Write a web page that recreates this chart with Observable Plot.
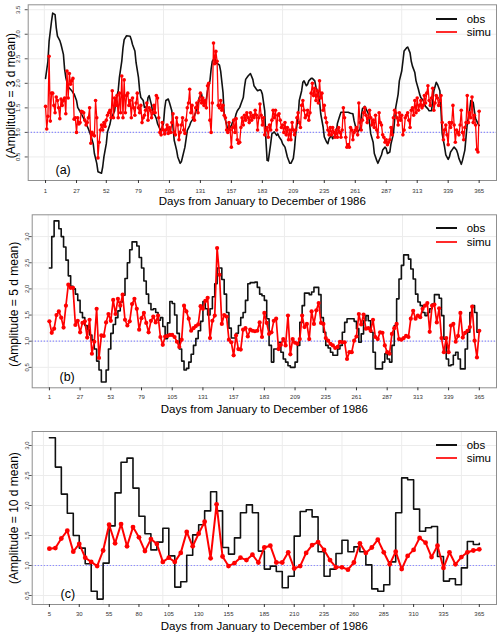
<!DOCTYPE html>
<html><head><meta charset="utf-8">
<script src="https://cdn.jsdelivr.net/npm/d3@7"></script>
<script src="https://cdn.jsdelivr.net/npm/@observablehq/plot@0.6"></script>
<style>
html,body{margin:0;padding:0;background:#fff;}
#root{position:relative;width:500px;height:637px;overflow:hidden;font-family:"Liberation Sans",Arial,Helvetica,sans-serif;}
.panel{position:absolute;left:0;width:500px;}
.lg-row{position:absolute;height:14px;display:flex;align-items:center;white-space:nowrap;font-size:11.5px;color:#000;}
.lg-line{display:inline-block;width:21px;height:0;border-top:2px solid;margin-right:10px;}
</style></head><body><div id="root"></div>
<script>
// ---------- shared labels ----------
const XLABEL = "Days from January to December of 1986";
const yTitles = ["(Amplitude = 3 d mean)", "(Amplitude = 5 d mean)", "(Amplitude = 10 d mean)"];
const panelLabels = ["(a)", "(b)", "(c)"];
const legendNames = ["obs", "simu"];

// ---------- tick labels ----------
const xTicksA = [1,27,52,79,105,131,157,183,209,235,261,287,313,339,365];
const xTicksB = [1,27,53,79,105,131,157,183,209,235,261,287,313,339,365];
const xTicksC = [5,30,55,80,105,130,155,185,210,235,260,285,310,335,365];
const yTicksA = [0.5,1.0,1.5,2.0,2.5,3.0,3.5];
const yTicksBC = [0.5,1.0,1.5,2.0,2.5,3.0];
const gridXA = [0,100,200,300];
const gridXB = [0,100,200,300];
const gridXC = [0,50,100,150,200,250,300,350];

// ---------- panel (a): 3-day mean, daily ----------
const obsA_day = [1,3,4,6,7,9,10,11,13,14,16,17,18,20,23,24,25,27,28,31,34,37,39,41,42,44,45,48,49,50,52,53,55,56,59,60,62,63,65,66,67,69,72,73,74,76,77,79,80,81,83,84,86,87,88,90,91,93,94,95,97,98,100,101,102,104,105,107,108,109,111,112,114,115,116,118,119,120,122,123,125,126,127,129,130,132,133,134,136,137,139,140,141,143,144,146,147,148,150,151,153,154,155,157,158,160,161,162,164,165,167,168,169,171,173,175,176,178,179,181,182,183,185,186,187,188,190,191,193,195,196,197,199,200,202,203,204,206,207,209,210,211,213,214,216,217,218,220,221,222,224,225,227,228,230,231,232,234,235,237,238,239,241,242,243,245,246,248,249,252,255,257,259,260,262,263,265,266,267,269,270,272,273,274,276,277,279,280,281,283,284,286,287,288,290,291,293,294,295,297,298,300,301,302,304,305,307,308,309,311,312,314,315,316,318,319,320,322,323,325,326,327,329,330,332,333,334,336,337,339,340,341,343,344,346,347,348,350,351,353,354,355,357,358,360,361,362,364,365];
const obsA_val = [2.10,2.45,2.86,3.26,3.43,3.40,3.13,2.96,2.87,2.79,
2.59,2.29,2.12,1.93,1.85,1.81,1.78,1.65,1.51,1.38,
1.24,1.07,0.94,0.77,0.57,0.37,0.20,0.17,0.30,0.50,
0.77,1.01,1.16,1.28,1.44,1.65,1.85,2.12,2.45,2.72,
2.89,2.97,2.96,2.89,2.79,2.66,2.42,2.12,1.85,1.71,
1.65,1.51,1.52,1.71,1.75,1.55,1.41,1.34,1.28,1.18,
1.07,1.04,1.18,1.48,1.65,1.68,1.61,1.44,1.11,0.84,
0.64,0.50,0.37,0.40,0.50,0.70,0.87,1.04,1.14,1.21,
1.28,1.34,1.41,1.58,1.71,1.78,1.65,1.61,1.68,1.85,
2.05,2.29,2.45,2.52,2.42,2.39,2.37,2.25,1.81,1.34,
1.16,1.05,1.07,1.14,1.21,1.28,1.38,1.44,1.51,1.58,
1.71,1.92,2.08,2.15,2.20,2.08,1.95,1.88,1.85,1.87,
1.85,1.78,1.44,0.84,0.43,0.42,0.77,0.97,1.01,0.94,
0.97,0.91,0.84,0.77,0.70,0.60,0.50,0.37,0.37,0.47,
0.67,0.97,1.31,1.65,1.85,2.02,2.05,1.95,1.98,2.05,
2.10,2.10,2.05,1.92,1.81,1.65,1.38,1.11,0.91,0.80,
0.77,0.87,0.94,0.87,0.91,0.97,1.18,1.34,1.41,1.41,
1.41,1.39,1.38,1.24,1.04,1.01,1.07,1.31,1.48,1.53,
1.48,1.38,1.18,0.97,0.80,0.57,0.43,0.37,0.43,0.54,
0.64,0.70,0.67,0.57,0.60,0.77,0.97,1.24,1.51,1.78,
2.05,2.25,2.45,2.66,2.72,2.74,2.62,2.45,2.35,2.22,
2.05,1.88,1.78,1.71,1.65,1.58,1.53,1.48,1.44,1.44,
1.65,1.85,2.02,1.98,1.85,1.44,0.97,0.70,0.54,0.45,
0.50,0.60,0.67,0.70,0.64,0.57,0.47,0.35,0.43,0.64,
0.91,1.18,1.44,1.65,1.61,1.44,1.28,1.18,1.14];
const simuA_firstDay = 1, simuA_stepDays = 1;
const simuA_val = [1.53,1.07,1.33,2.55,1.23,1.80,1.80,1.55,1.40,1.72,
1.65,1.50,1.28,1.68,1.55,1.65,1.70,1.38,2.25,1.70,
2.20,1.98,2.05,2.10,1.27,1.30,1.00,1.30,1.17,1.20,
1.43,1.42,1.40,1.25,1.15,1.20,1.30,1.50,0.78,1.00,
0.95,0.93,1.65,1.30,0.48,0.80,1.05,1.15,1.05,1.20,
1.12,1.25,1.35,1.40,1.45,1.30,1.85,1.30,1.70,1.55,
1.75,1.30,1.80,1.40,2.15,1.30,2.07,1.40,1.75,1.80,
1.55,1.65,1.30,1.70,1.50,1.35,1.60,1.80,1.50,1.40,
1.55,1.20,1.30,1.35,1.45,1.60,1.25,1.50,1.45,1.30,
1.40,1.55,1.40,1.75,1.70,1.30,1.00,0.95,1.20,1.05,
0.97,1.05,1.15,0.98,1.10,1.00,1.20,1.38,1.00,0.95,
1.30,1.15,0.85,1.00,1.15,1.30,1.05,0.98,1.25,1.50,
1.60,1.88,1.40,1.55,1.30,1.25,1.50,1.60,1.40,1.65,
1.80,1.60,1.70,1.55,1.65,1.50,1.95,2.00,1.25,1.00,
1.60,2.82,2.40,2.65,2.45,1.55,1.50,1.65,1.45,1.55,
1.35,1.30,1.05,1.00,1.20,1.05,0.70,1.10,1.25,1.00,
1.28,0.85,0.78,0.80,1.10,1.30,1.15,1.35,1.25,1.40,
1.30,1.20,1.40,1.25,1.35,1.30,1.45,1.35,1.05,1.30,
1.58,1.35,1.15,1.30,0.95,1.05,1.10,0.90,1.15,1.05,
1.25,1.45,1.30,1.45,1.05,1.35,1.38,1.25,1.10,1.15,
1.00,1.20,0.95,1.10,0.85,1.05,0.85,1.20,1.05,0.95,
1.05,1.30,1.40,1.20,1.10,1.55,1.65,1.45,1.30,1.35,
1.45,1.25,1.40,1.80,2.00,1.75,1.90,1.65,1.85,1.60,
2.05,1.70,1.80,1.45,1.55,1.30,1.20,1.05,0.95,1.10,
0.95,1.10,1.00,0.90,1.05,0.90,1.10,1.00,0.90,1.05,
1.50,1.30,0.90,0.70,0.75,0.70,1.10,1.05,0.85,1.00,
1.05,1.10,0.95,1.60,1.20,1.05,1.25,1.40,1.50,1.35,
1.20,1.30,1.45,1.30,1.15,1.25,1.10,1.35,1.05,0.90,
1.40,1.20,1.15,0.95,0.90,0.80,0.85,0.75,0.80,0.85,
1.10,0.95,1.30,1.45,1.40,1.30,1.15,1.40,1.25,1.35,
0.95,1.05,1.30,1.35,1.40,1.25,1.10,1.45,1.50,1.35,
1.65,1.40,1.70,1.45,1.55,1.65,1.50,1.55,1.75,1.60,
1.80,1.95,1.65,1.55,1.70,1.90,1.45,1.60,1.75,1.70,
1.55,1.65,1.75,1.20,0.85,1.05,1.15,0.95,0.75,1.20,
1.10,1.20,1.55,1.15,0.80,1.05,1.00,0.95,1.15,1.45,
1.00,0.85,1.10,1.20,1.75,1.20,1.40,1.30,1.72,1.20,
1.35,1.15,0.65,0.60,1.43];

// ---------- panel (b): 5-day mean, every 2 days ----------
const seriesB_firstDay = 1, seriesB_stepDays = 2;
const obsB_val = [2.40,3.00,3.30,3.30,3.15,3.00,2.80,2.55,2.25,2.05,
2.00,1.90,1.78,1.55,1.45,1.30,1.22,1.12,1.02,0.85,
0.62,0.45,0.22,0.22,0.45,0.85,1.15,1.32,1.45,1.58,
1.75,1.88,2.20,2.50,2.75,2.90,2.90,2.82,2.60,2.40,
2.15,1.90,1.72,1.60,1.62,1.55,1.40,1.45,1.28,1.05,
1.35,1.76,1.72,1.50,1.15,0.85,0.62,0.45,0.48,0.60,
0.75,0.92,1.05,1.20,1.38,1.76,1.62,1.50,1.62,1.85,
2.10,2.40,2.40,2.18,1.90,1.55,1.25,1.06,1.06,1.15,
1.30,1.45,1.55,1.78,2.10,2.12,2.12,2.13,2.03,1.90,
1.87,1.78,1.43,0.92,0.60,0.85,0.85,0.98,0.79,0.66,
0.60,0.53,0.50,0.50,0.60,0.92,1.36,1.68,1.92,1.92,
1.89,1.94,2.03,2.03,1.89,1.45,1.17,0.92,0.87,0.79,
0.73,0.73,0.85,0.92,1.17,1.36,1.43,1.43,1.43,1.38,
1.24,0.98,1.14,1.39,1.49,1.39,1.17,0.79,0.47,0.47,
0.47,0.60,0.76,0.66,0.60,0.92,1.30,1.81,2.19,2.45,
2.65,2.65,2.57,2.38,2.19,1.90,1.75,1.68,1.55,1.49,
1.55,1.62,1.71,1.89,1.89,1.82,1.49,1.04,0.66,0.53,
0.55,0.73,0.79,0.66,0.47,0.47,0.85,1.17,1.55,1.68,
1.55,1.17,1.17];
const simuB_val = [1.38,1.16,1.24,1.50,1.57,1.45,1.26,1.68,2.08,2.02,
2.02,1.31,1.39,1.17,1.35,1.38,1.07,1.41,0.76,0.99,
1.62,0.68,1.11,1.10,1.36,1.52,1.39,1.79,1.52,1.81,
1.68,1.89,1.41,1.30,1.38,1.71,1.81,1.62,1.22,1.44,
1.54,1.35,1.17,1.39,1.47,1.36,1.49,1.08,0.93,1.09,
1.10,1.12,1.12,1.08,0.99,0.89,1.03,1.68,1.57,1.43,
1.20,1.25,1.29,1.32,1.67,1.62,1.77,1.83,1.06,1.39,
1.49,2.78,2.27,1.33,1.50,1.47,1.03,0.98,0.73,1.11,
0.85,
0.84,1.22,1.25,1.09,1.22,1.20,1.19,1.20,1.36,1.08,
1.54,1.35,1.14,1.17,1.39,1.43,0.85,0.93,1.04,0.92,
1.49,0.75,1.04,0.97,0.95,1.04,1.49,1.27,1.33,1.04,
1.57,1.33,1.59,1.73,1.35,1.33,1.06,1.01,0.95,0.92,
0.87,0.89,0.99,0.98,0.98,0.66,0.79,0.79,1.01,1.09,
1.52,1.32,1.51,1.24,1.25,1.20,1.41,1.08,1.04,1.17,
1.16,0.92,0.79,0.76,1.14,1.25,1.33,1.04,1.03,1.06,
1.10,1.08,1.43,1.58,1.43,1.49,1.46,1.62,1.68,1.73,
1.18,1.68,1.70,1.36,1.63,1.06,0.79,1.06,0.79,1.30,
1.33,0.99,1.10,1.54,1.07,1.16,1.20,1.27,1.66,1.01,
0.69,1.20];

// ---------- panel (c): 10-day mean, every 5 days ----------
const seriesC_firstDay = 5, seriesC_stepDays = 5;
const obsC_val = [3.13,2.64,2.19,1.87,1.50,1.29,1.03,0.57,0.44,1.04,
1.66,2.21,2.72,2.79,2.29,1.82,1.53,1.26,1.39,1.62,
1.16,0.64,0.73,1.17,1.51,1.68,1.91,2.23,1.91,1.30,
1.19,1.46,1.88,2.01,1.88,1.24,0.94,0.99,0.90,0.63,
0.82,1.49,1.90,1.93,1.81,1.23,0.82,0.94,1.20,1.42,
1.23,1.31,1.23,1.01,0.61,0.57,0.68,1.06,1.88,2.46,
2.43,1.94,1.57,1.63,1.65,1.15,0.74,0.78,0.68,0.96,
1.40,1.35,1.37];
const simuC_val = [1.28,1.29,1.45,1.58,1.23,1.36,1.13,1.06,0.99,1.25,
1.68,1.37,1.69,1.32,1.64,1.47,1.24,1.44,1.36,1.06,
1.13,1.06,1.21,1.56,1.32,1.53,1.73,1.12,2.02,1.15,
0.99,1.04,1.13,1.09,1.18,1.05,1.30,1.33,1.05,1.05,
1.22,0.95,0.99,1.21,1.34,1.39,1.26,1.09,0.97,0.97,
0.93,1.05,1.37,1.21,1.30,1.43,1.22,1.02,1.23,0.94,
1.16,1.26,1.46,1.38,1.14,1.33,0.96,1.22,1.02,1.14,
1.22,1.25,1.27];

// ---------- helpers ----------
const FONT = '"Liberation Sans", Arial, Helvetica, sans-serif';
const RED = "#ff0000";
const pairs = (days, vals) => vals.map((v, i) => ({d: days[i], v}));
const regular = (first, step, vals) => vals.map((v, i) => ({d: first + i * step, v}));

function makePanel(o) {
  const svg = Plot.plot({
    width: 500, height: o.height,
    marginTop: o.mt, marginBottom: o.mb, marginLeft: o.ml, marginRight: 4,
    style: {fontFamily: FONT, background: "transparent", overflow: "visible"},
    x: {domain: o.xDomain},
    y: {domain: o.yDomain},
    marks: [
      Plot.ruleX(o.gridX, {stroke: "#ececec", strokeWidth: 1}),
      Plot.ruleY(o.yTicks, {stroke: "#ececec", strokeWidth: 1}),
      Plot.ruleY([1], {stroke: "#8c8cff", strokeWidth: 1.2, strokeDasharray: "1.3,1.7"}),
      Plot.line(o.obs, {x: "d", y: "v", curve: o.obsCurve, stroke: "#111", strokeWidth: 1.6}),
      Plot.line(o.sim, {x: "d", y: "v", stroke: RED, strokeWidth: o.sw}),
      Plot.dot(o.sim, {x: "d", y: "v", r: o.r, fill: RED, stroke: null}),
      Plot.frame({stroke: "#8f8f8f"}),
      Plot.axisX(o.xTicks, {tickSize: 3, tickPadding: o.tickPad, fontSize: 6, label: null, color: "#333"}),
      Plot.axisY(o.yTicks, {tickSize: 3, tickFormat: () => "", label: null, color: "#555"}),
      Plot.text(o.yTicks, {y: d => d, frameAnchor: "left", dx: o.ylabDx, rotate: -90, textAnchor: "middle", lineAnchor: "middle",
        text: d => d.toFixed(1), fontSize: 6, fill: "#333"}),
      Plot.text([o.ytitle], {frameAnchor: "left", dx: o.ytitleDx, dy: o.ytitleDy, rotate: -90, textAnchor: "middle", lineAnchor: "middle",
        fontSize: 12, fill: "#000"}),
      Plot.text([XLABEL], {frameAnchor: "bottom", dy: o.xlabDy, textAnchor: "middle", lineAnchor: "middle", fontSize: 11.5, fill: "#000"}),
      Plot.text([o.label], {frameAnchor: "bottom-left", dx: o.labelDx, dy: o.labelDy, textAnchor: "start", lineAnchor: "middle",
        fontSize: 12.5, fill: "#000"})
    ]
  });
  const div = document.createElement("div");
  div.className = "panel";
  div.style.top = o.top + "px";
  div.style.height = o.height + "px";
  div.appendChild(svg);
  document.getElementById("root").appendChild(div);
}

function addLegend(yObs, ySim) {
  const root = document.getElementById("root");
  [[yObs, "#111", legendNames[0]], [ySim, "#ff2a2a", legendNames[1]]].forEach(([y, c, t]) => {
    const row = document.createElement("div");
    row.className = "lg-row";
    row.style.left = "435.7px";
    row.style.top = (y - 7) + "px";
    const ln = document.createElement("span");
    ln.className = "lg-line";
    ln.style.borderTopColor = c;
    const tx = document.createElement("span");
    tx.textContent = t;
    row.appendChild(ln); row.appendChild(tx);
    root.appendChild(row);
  });
}

// ---------- panels ----------
makePanel({
  top: 0, height: 210, mt: 4.3, mb: 30, ml: 27.7,
  xDomain: [-13.56, 379.56], yDomain: [0.02, 3.60],
  xTicks: xTicksA, yTicks: yTicksA, gridX: gridXA,
  obs: pairs(obsA_day, obsA_val), obsCurve: "linear",
  sim: regular(simuA_firstDay, simuA_stepDays, simuA_val), r: 1.8, sw: 1.3,
  tickPad: 5.5, ylabDx: -10.3, ytitleDx: -17.2, ytitleDy: 3,
  ytitle: yTitles[0], label: panelLabels[0], labelDx: 27.3, labelDy: -11, xlabDy: 21.3
});
makePanel({
  top: 210, height: 210, mt: 4.3, mb: 32.7, ml: 31.7,
  xDomain: [-13.56, 379.56], yDomain: [0.109, 3.417],
  xTicks: xTicksB, yTicks: yTicksBC, gridX: gridXB,
  obs: regular(seriesB_firstDay, seriesB_stepDays, obsB_val), obsCurve: "step-after",
  sim: regular(seriesB_firstDay, seriesB_stepDays, simuB_val), r: 2.1, sw: 1.7,
  tickPad: 4.3, ylabDx: -5.3, ytitleDx: -18.4, ytitleDy: 3,
  ytitle: yTitles[1], label: panelLabels[1], labelDx: 27.3, labelDy: -10.6, xlabDy: 21.6
});
makePanel({
  top: 420, height: 217, mt: 11, mb: 33, ml: 31.7,
  xDomain: [-9.4, 379.4], yDomain: [0.35, 3.233],
  xTicks: xTicksC, yTicks: yTicksBC, gridX: gridXC,
  obs: regular(seriesC_firstDay, seriesC_stepDays, obsC_val), obsCurve: "step-after",
  sim: regular(seriesC_firstDay, seriesC_stepDays, simuC_val), r: 2.4, sw: 2,
  tickPad: 4.1, ylabDx: -5.3, ytitleDx: -18.4, ytitleDy: 0,
  ytitle: yTitles[2], label: panelLabels[2], labelDx: 28.3, labelDy: -10.7, xlabDy: 22.3
});
addLegend(19, 32.3);
addLegend(228.3, 241.7);
addLegend(445, 458.3);
</script>
</body></html>
